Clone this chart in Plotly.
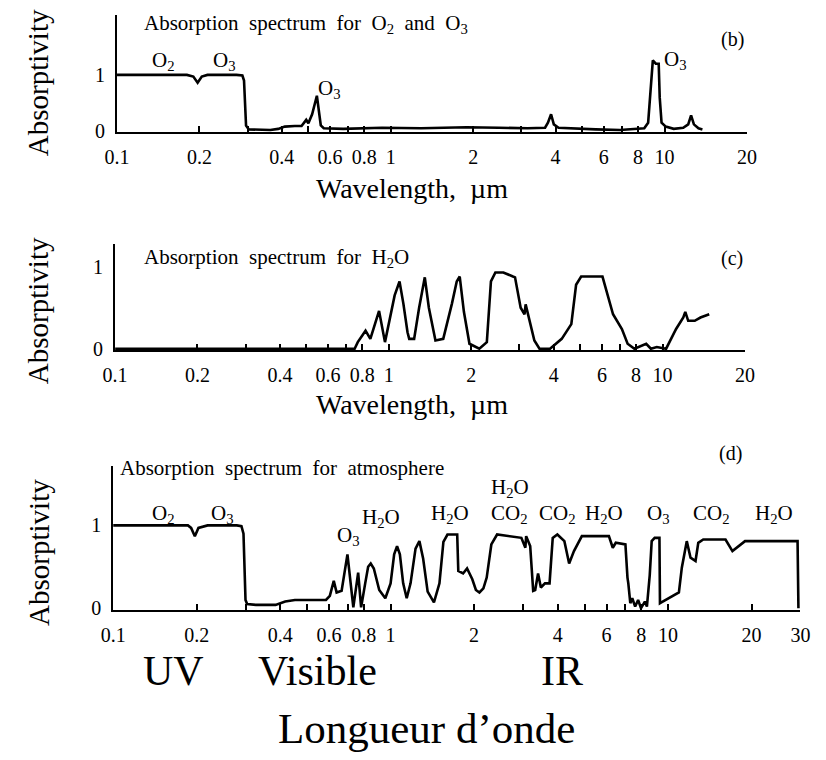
import math
import plotly.graph_objects as go

W, H = 826, 760
FONT = "Liberation Serif"

# ---------------- data ----------------
# Panel (b): absorption spectrum for O2 and O3
wl_b = [0.1, 0.142, 0.18, 0.19, 0.197, 0.204, 0.214, 0.273, 0.287, 0.291, 0.2935, 0.296, 0.303,
        0.335, 0.363, 0.388, 0.41, 0.446, 0.472, 0.491, 0.50, 0.516, 0.537, 0.555, 0.569, 0.67,
        0.789, 0.929, 1.29, 1.645, 1.89, 2.48, 3.16, 3.66, 3.75, 3.85, 3.94, 4.10, 4.75, 5.6,
        6.87, 7.76, 8.43, 8.71, 8.85, 9.06, 9.29, 9.52, 9.60, 9.75, 10.1, 10.8, 11.7, 12.2,
        12.5, 12.8, 13.3, 13.75]
abs_b = [1.0, 1.0, 1.0, 0.97, 0.86, 0.97, 1.0, 1.0, 0.99, 0.9, 0.5, 0.1, 0.03,
         0.02, 0.02, 0.04, 0.08, 0.09, 0.09, 0.2, 0.14, 0.3, 0.63, 0.1, 0.05, 0.04,
         0.05, 0.06, 0.05, 0.06, 0.07, 0.06, 0.05, 0.06, 0.15, 0.3, 0.12, 0.06, 0.04, 0.03,
         0.02, 0.03, 0.05, 0.15, 0.6, 1.26, 1.2, 1.2, 0.6, 0.15, 0.08, 0.04, 0.06, 0.12,
         0.28, 0.12, 0.05, 0.03]

# Panel (c): absorption spectrum for H2O
wl_c = [0.1, 0.75, 0.77, 0.822, 0.856, 0.921, 0.968, 1.0, 1.05, 1.094, 1.13, 1.17, 1.187,
        1.237, 1.29, 1.353, 1.40, 1.48, 1.58, 1.70, 1.77, 1.815, 1.88, 1.97, 2.14, 2.28,
        2.36, 2.45, 2.62, 2.84, 2.89, 3.03, 3.13, 3.16, 3.29, 3.40, 3.55, 3.88, 4.28, 4.64,
        4.83, 4.91, 5.04, 6.03, 6.33, 6.59, 7.10, 7.45, 7.89, 8.71, 9.06, 9.52, 10.3, 11.2,
        11.9, 12.1, 12.4, 13.1, 13.75, 14.8]
abs_c = [0.0, 0.0, 0.08, 0.22, 0.12, 0.46, 0.08, 0.3, 0.65, 0.82, 0.55, 0.2, 0.12,
         0.12, 0.5, 0.87, 0.5, 0.1, 0.12, 0.55, 0.82, 0.88, 0.45, 0.06, 0.0, 0.08,
         0.82, 0.93, 0.93, 0.88, 0.87, 0.5, 0.42, 0.54, 0.3, 0.1, 0.0, 0.0, 0.12, 0.3,
         0.78, 0.82, 0.88, 0.88, 0.62, 0.42, 0.24, 0.06, 0.0, 0.06, 0.0, 0.02, 0.0, 0.24,
         0.38, 0.45, 0.34, 0.34, 0.38, 0.42]

# Panel (d): absorption spectrum for atmosphere
wl_d = [0.1, 0.186, 0.191, 0.197, 0.203, 0.219, 0.279, 0.29, 0.295, 0.297, 0.30, 0.304, 0.327,
        0.385, 0.417, 0.452, 0.585, 0.604, 0.624, 0.639, 0.666, 0.699, 0.734, 0.764, 0.783,
        0.81, 0.83, 0.848, 0.87, 0.91, 0.957, 1.0, 1.03, 1.055, 1.08, 1.11, 1.143, 1.18,
        1.23, 1.27, 1.31, 1.36, 1.433, 1.5, 1.55, 1.603, 1.738, 1.754, 1.825, 1.886, 1.93,
        1.97, 2.03, 2.09, 2.16, 2.22, 2.307, 2.42, 2.96, 3.06, 3.08, 3.185, 3.265, 3.32,
        3.40, 3.48, 3.60, 3.74, 3.84, 3.99, 4.23, 4.40, 4.58, 4.89, 6.12, 6.32, 6.48, 7.02,
        7.14, 7.19, 7.31, 7.43, 7.61, 7.80, 7.99, 8.25, 8.39, 8.59, 8.73, 8.95, 9.31, 9.35,
        9.46, 10.94, 11.21, 11.68, 12.05, 12.56, 12.85, 13.39, 14.16, 16.11, 17.06, 18.49,
        18.94, 23.55, 29.29, 29.5]
abs_d = [1.0, 1.0, 0.97, 0.87, 0.97, 1.0, 1.0, 0.99, 0.9, 0.5, 0.1, 0.05, 0.04,
         0.04, 0.08, 0.1, 0.1, 0.15, 0.33, 0.19, 0.21, 0.65, 0.01, 0.43, 0.01,
         0.3, 0.5, 0.54, 0.48, 0.22, 0.12, 0.3, 0.65, 0.75, 0.65, 0.3, 0.12, 0.3,
         0.72, 0.81, 0.6, 0.2, 0.07, 0.3, 0.8, 0.89, 0.89, 0.45, 0.42, 0.48, 0.42,
         0.35, 0.22, 0.19, 0.24, 0.37, 0.77, 0.89, 0.85, 0.73, 0.87, 0.75, 0.21, 0.22,
         0.42, 0.25, 0.3, 0.3, 0.85, 0.89, 0.81, 0.54, 0.69, 0.87, 0.87, 0.73, 0.79, 0.77,
         0.37, 0.3, 0.06, 0.12, 0.02, 0.1, 0.0, 0.08, 0.02, 0.4, 0.81, 0.85, 0.85, 0.06,
         0.07, 0.19, 0.49, 0.81, 0.61, 0.57, 0.79, 0.83, 0.83, 0.83, 0.69, 0.79,
         0.81, 0.81, 0.81, 0.0]

tick_vals_bc = [0.1, 0.2, 0.4, 0.6, 0.8, 1, 2, 4, 6, 8, 10, 20]
tick_text_bc = ["0.1", "0.2", "0.4", "0.6", "0.8", "1", "2", "4", "6", "8", "10", "20"]
tick_vals_d = tick_vals_bc + [30]
tick_text_d = tick_text_bc + ["30"]
minor_vals = [0.3, 0.5, 0.7, 3, 5, 7]
y_vals = [0, 1]
y_text = ["0", "1"]

# ---------------- figure ----------------
fig = go.Figure()
line = dict(color="black", width=2.6)
fig.add_trace(go.Scatter(x=wl_b, y=abs_b, mode="lines", line=line, xaxis="x", yaxis="y", hoverinfo="skip"))
fig.add_trace(go.Scatter(x=wl_c, y=abs_c, mode="lines", line=line, xaxis="x2", yaxis="y2", hoverinfo="skip"))
fig.add_trace(go.Scatter(x=wl_d, y=abs_d, mode="lines", line=line, xaxis="x3", yaxis="y3", hoverinfo="skip"))


def px_x(x):
    return x / W


def px_y(y):
    return 1 - y / H


def xax(left, right, xmax, anchor, tv, tt):
    return dict(domain=[px_x(left), px_x(right)], type="log", range=[-1, math.log10(xmax)],
                anchor=anchor, showline=True, linecolor="black", linewidth=2,
                ticks="inside", ticklen=6, tickwidth=1.5, tickcolor="black",
                tickmode="array", tickvals=tv, ticktext=tt,
                tickfont=dict(family=FONT, size=20, color="black"),
                showgrid=False, zeroline=False, ticklabelstandoff=6,
                minor=dict(tickmode="array", tickvals=minor_vals, ticks="inside",
                           ticklen=6, tickwidth=1.5, tickcolor="black", showgrid=False))


def yax(bottom, top, ymax, anchor):
    return dict(domain=[px_y(bottom), px_y(top)], range=[-0.02, ymax], anchor=anchor,
                showline=True, linecolor="black", linewidth=2, ticks="",
                tickmode="array", tickvals=y_vals, ticktext=y_text,
                tickfont=dict(family=FONT, size=20, color="black"),
                showgrid=False, zeroline=False, ticklabelstandoff=6)


def ann(text, x, y, size=20, anchor="center", angle=0):
    return dict(text=text, x=px_x(x), y=px_y(y), xref="paper", yref="paper",
                xanchor=anchor, yanchor="middle", showarrow=False, textangle=angle,
                font=dict(family=FONT, size=size, color="black"))


SP = "\u00a0\u00a0"
LY = 521  # label row in panel (d)
annotations = [
    # panel b
    ann("Absorption" + SP + "spectrum" + SP + "for" + SP + "O<sub>2</sub>" + SP + "and" + SP + "O<sub>3</sub>", 133, 24, 21, "left"),
    ann("(b)", 740, 40, 20),
    ann("O<sub>2</sub>", 155, 62, 21), ann("O<sub>3</sub>", 218, 62, 21),
    ann("O<sub>3</sub>", 326, 90, 21), ann("O<sub>3</sub>", 681, 61, 21),
    ann("Wavelength,\u00a0\u00a0µm", 410, 191, 28),
    ann("Absorptivity", 26, 84, 29, angle=-90),
    # panel c
    ann("Absorption" + SP + "spectrum" + SP + "for" + SP + "H<sub>2</sub>O", 133, 261, 21, "left"),
    ann("(c)", 740, 262, 20),
    ann("Wavelength,\u00a0\u00a0µm", 410, 410, 28),
    ann("Absorptivity", 26, 315, 29, angle=-90),
    # panel d
    ann("Absorption" + SP + "spectrum" + SP + "for" + SP + "atmosphere", 108, 474, 21, "left"),
    ann("(d)", 738, 460, 20),
    ann("O<sub>2</sub>", 155, LY, 21), ann("O<sub>3</sub>", 215, LY, 21),
    ann("O<sub>3</sub>", 345, 543, 21), ann("H<sub>2</sub>O", 379, 525, 21),
    ann("H<sub>2</sub>O", 450, LY, 21), ann("H<sub>2</sub>O", 511, 495, 21),
    ann("CO<sub>2</sub>", 511, LY, 21), ann("CO<sub>2</sub>", 560, LY, 21),
    ann("H<sub>2</sub>O", 608, LY, 21), ann("O<sub>3</sub>", 664, LY, 21),
    ann("CO<sub>2</sub>", 718, LY, 21), ann("H<sub>2</sub>O", 783, LY, 21),
    ann("Absorptivity", 26, 560, 29, angle=-90),
    ann("UV", 165, 680, 42), ann("Visible", 313, 680, 42), ann("IR", 565, 680, 42),
    ann("Longueur d\u2019onde", 425, 738, 43),
]

fig.update_layout(
    width=W, height=H, margin=dict(l=0, r=0, t=0, b=0),
    paper_bgcolor="white", plot_bgcolor="white", showlegend=False,
    xaxis=xax(107, 755, 20, "y", tick_vals_bc, tick_text_bc),
    yaxis=yax(134, 15, 2.07, "x"),
    xaxis2=xax(105, 753, 20, "y2", tick_vals_bc, tick_text_bc),
    yaxis2=yax(355, 247, 1.28, "x2"),
    xaxis3=xax(103, 810, 30, "y3", tick_vals_d, tick_text_d),
    yaxis3=yax(618, 472, 1.72, "x3"),
    annotations=annotations,
)

fig.write_html("out.html", config={"displayModeBar": False},
               post_script="document.body.style.margin='0';")
